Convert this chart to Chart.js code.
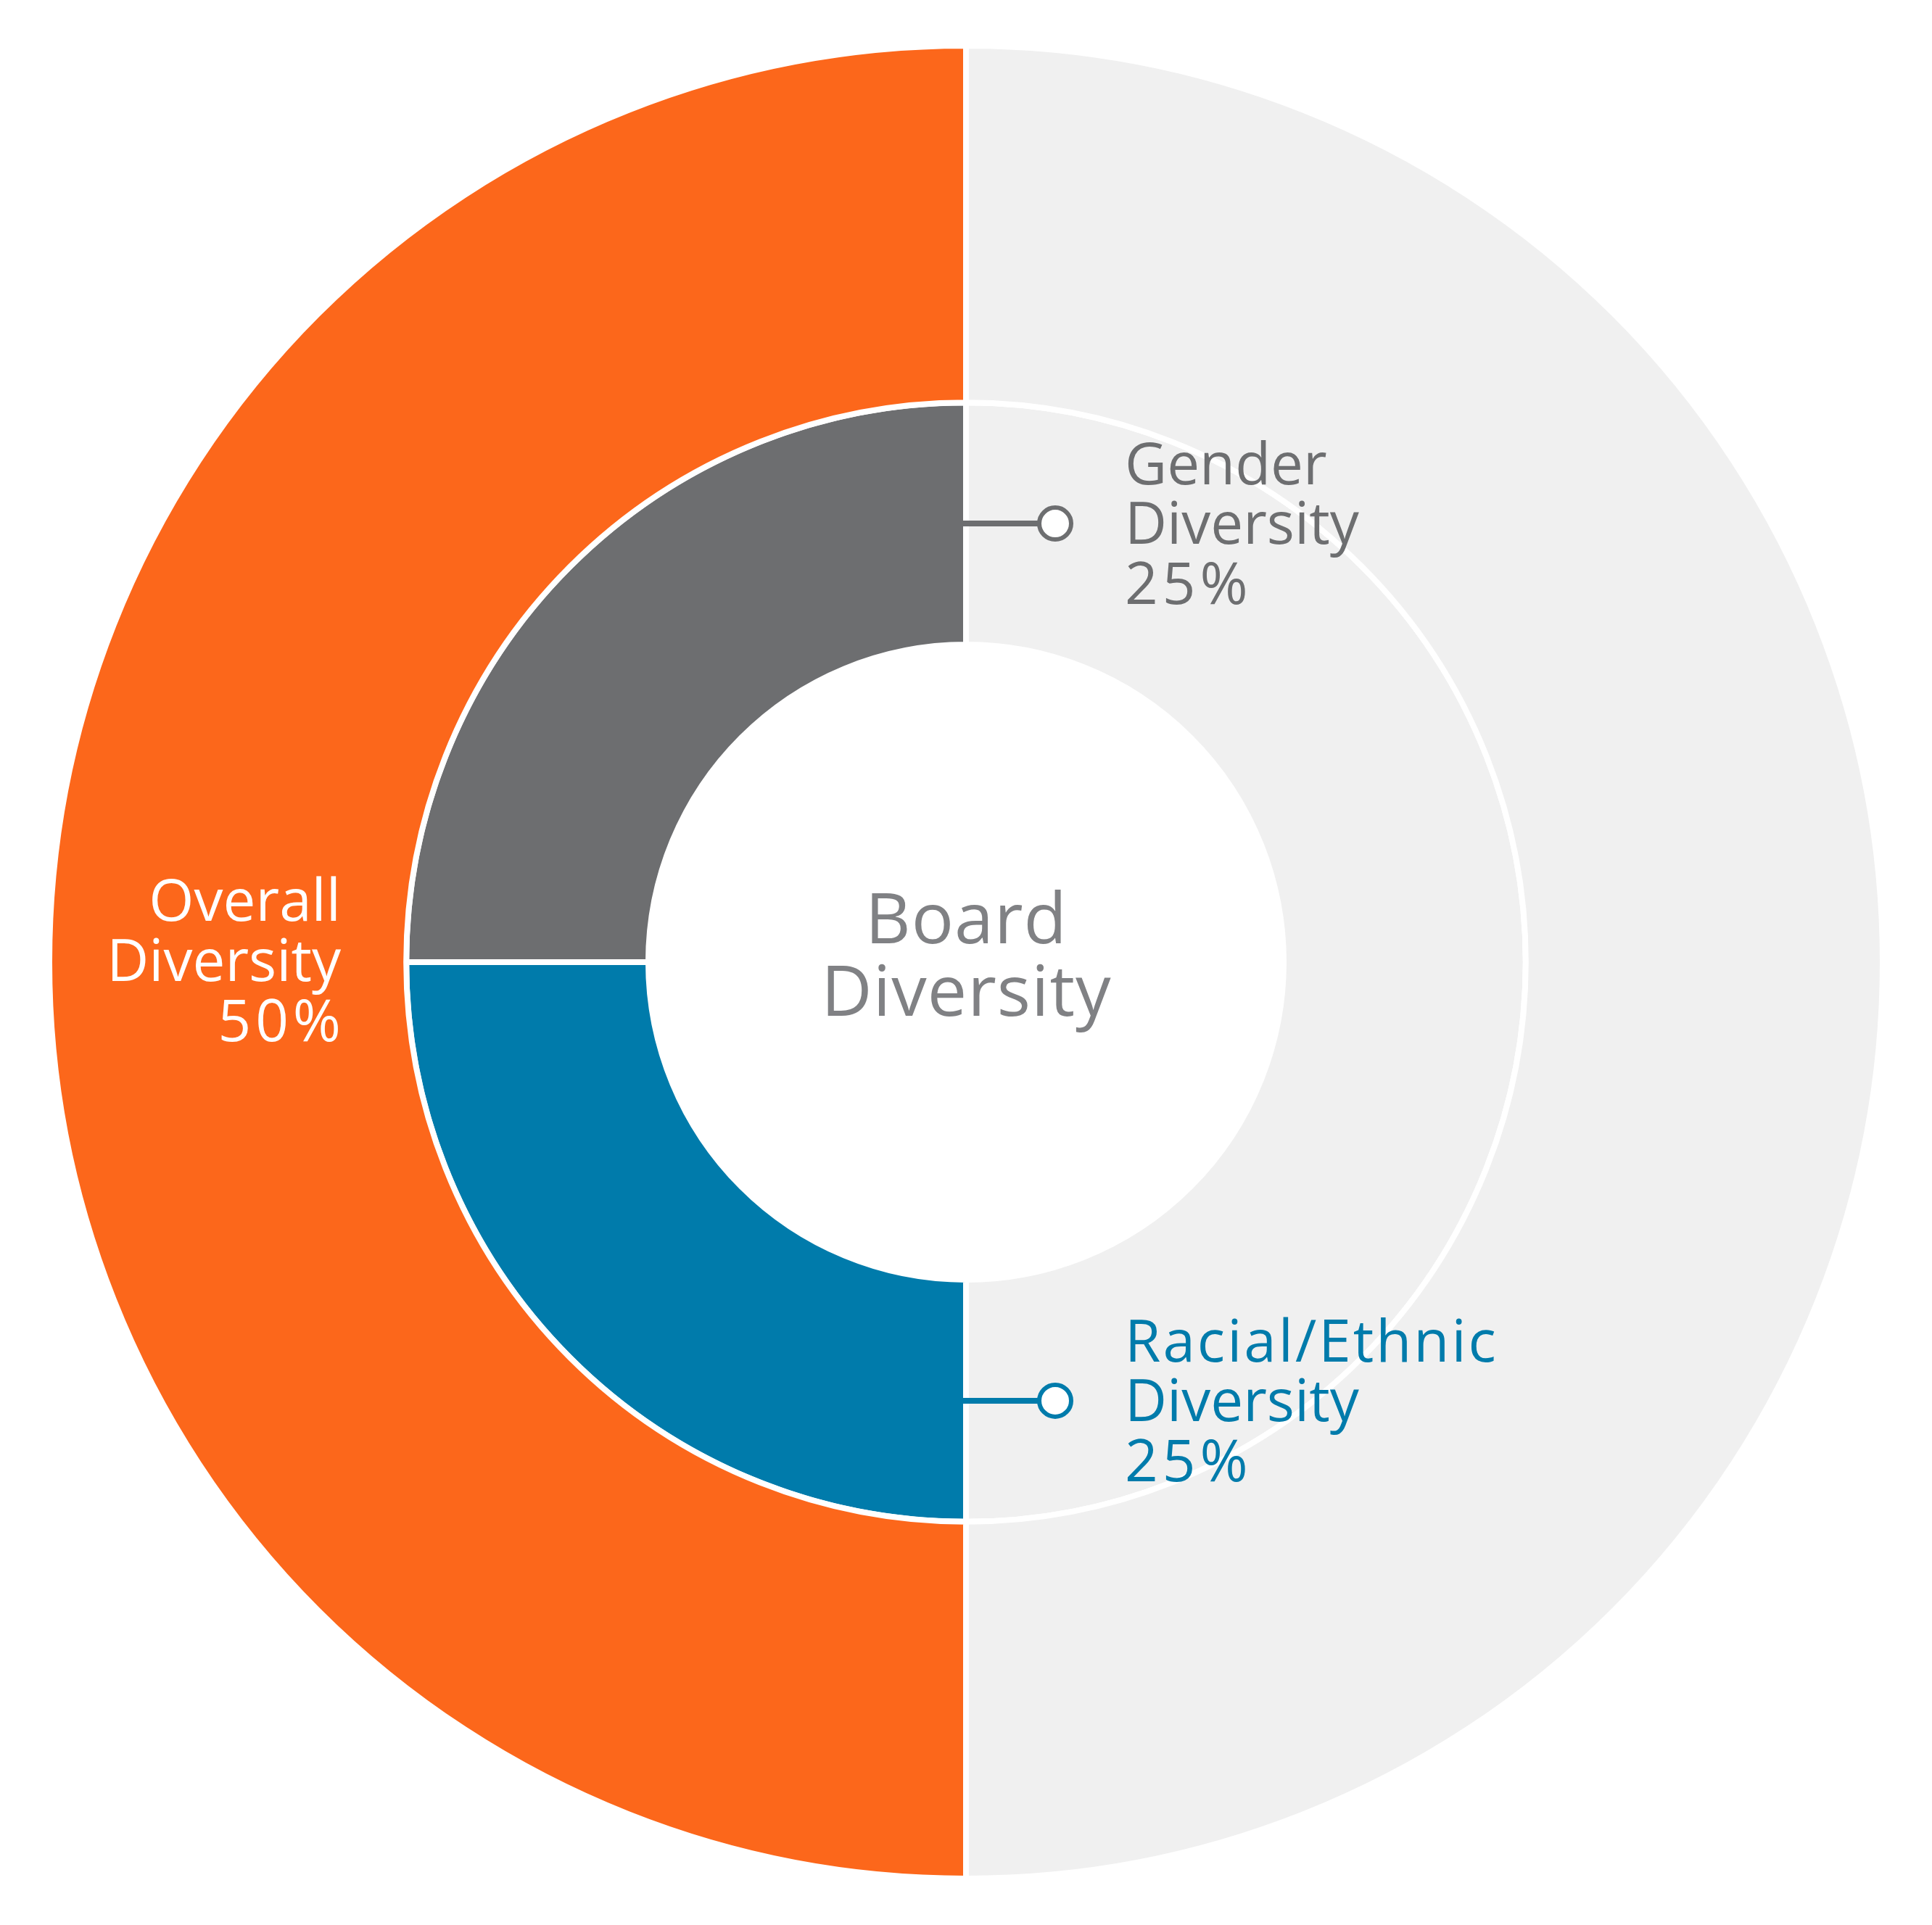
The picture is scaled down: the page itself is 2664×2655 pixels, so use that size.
<!DOCTYPE html>
<html>
<head>
<meta charset="utf-8">
<title>Board Diversity</title>
<script src="https://cdn.jsdelivr.net/npm/chart.js@4.4.1/dist/chart.umd.min.js"></script>
<style>
  html, body { margin: 0; padding: 0; background: #ffffff; }
  canvas { display: block; }
</style>
</head>
<body>
<canvas id="board" width="2664" height="2655"></canvas>
<script>
// outer ring: remaining vs overall diversity
const outerLabels = ["Other", "Overall Diversity"];
const outerValues = [50, 50];
const outerColors = ["#f0f0f0", "#fc671b"];

// inner ring: remaining, racial/ethnic, gender
const innerLabels = ["Other", "Racial/Ethnic Diversity", "Gender Diversity"];
const innerValues = [50, 25, 25];
const innerColors = ["#f0f0f0", "#007bab", "#6d6e70"];

const centerTitle = ["Board", "Diversity"];
const FONT = '"Open Sans", "Noto Sans", sans-serif';

// draw text with letter spacing, compensating the trailing gap
function spacedText(ctx, text, x, y, spacing) {
  ctx.letterSpacing = spacing + "px";
  let dx = 0;
  if (ctx.textAlign === "right") dx = spacing;
  else if (ctx.textAlign === "center") dx = spacing / 2;
  ctx.fillText(text, x + dx, y);
  ctx.letterSpacing = "0px";
}

const calloutPlugin = {
  id: "callouts",
  afterDraw(chart) {
    const ctx = chart.ctx;
    const outerArc = chart.getDatasetMeta(0).data[1];
    const cx = outerArc.x, cy = outerArc.y;
    const inner = chart.getDatasetMeta(1).data;

    ctx.save();

    // center title
    ctx.fillStyle = "#808184";
    ctx.font = "97px " + FONT;
    ctx.textAlign = "center";
    ctx.textBaseline = "alphabetic";
    spacedText(ctx, centerTitle[0], cx, cy - 26, 1);
    spacedText(ctx, centerTitle[1], cx, cy + 74, 1);

    // overall label inside the orange half
    ctx.fillStyle = "#ffffff";
    ctx.font = "80px " + FONT;
    ctx.textAlign = "right";
    spacedText(ctx, "Overall", cx - 862, cy - 57, 0);
    spacedText(ctx, "Diversity", cx - 862, cy + 26, 0);
    spacedText(ctx, outerValues[1] + "%", cx - 862, cy + 109, 6);

    // leader lines for the two inner segments
    const callouts = [
      { idx: 2, dir: -1, lines: ["Gender", "Diversity"], sp: [0, 0] },
      { idx: 1, dir: 1, lines: ["Racial/Ethnic", "Diversity"], sp: [3, 0] }
    ];
    callouts.forEach(c => {
      const arc = inner[c.idx];
      const mid = (arc.innerRadius + arc.outerRadius) / 2;
      const y = cy + c.dir * mid;
      const color = innerColors[c.idx];
      const dotX = cx + 123;

      ctx.strokeStyle = color;
      ctx.lineWidth = 8;
      ctx.beginPath();
      ctx.moveTo(cx - 4, y);
      ctx.lineTo(dotX - 22, y);
      ctx.stroke();

      ctx.beginPath();
      ctx.arc(dotX, y, 22, 0, Math.PI * 2);
      ctx.fillStyle = "#ffffff";
      ctx.fill();
      ctx.lineWidth = 6;
      ctx.stroke();

      ctx.fillStyle = color;
      ctx.font = "80px " + FONT;
      ctx.textAlign = "left";
      const tx = cx + 219;
      spacedText(ctx, c.lines[0], tx, y - 54, c.sp[0]);
      spacedText(ctx, c.lines[1], tx, y + 28, c.sp[1]);
      spacedText(ctx, innerValues[c.idx] + "%", tx, y + 111, 6);
    });

    ctx.restore();
  }
};

new Chart(document.getElementById("board").getContext("2d"), {
  type: "doughnut",
  data: {
    labels: innerLabels,
    datasets: [
      {
        label: "Overall",
        data: outerValues,
        backgroundColor: outerColors,
        borderColor: "#ffffff",
        borderWidth: 8,
        weight: 491,
      },
      {
        label: "Breakdown",
        data: innerValues,
        backgroundColor: innerColors,
        borderColor: "#ffffff",
        borderWidth: 8,
        weight: 333,
      },
    ],
  },
  options: {
    responsive: false,
    animation: false,
    cutout: 438,
    layout: {
      padding: { left: 64, right: 64, top: 59, bottom: 60 },
    },
    plugins: {
      legend: { display: false },
      tooltip: { enabled: false },
    },
  },
  plugins: [calloutPlugin],
});
</script>
</body>
</html>
